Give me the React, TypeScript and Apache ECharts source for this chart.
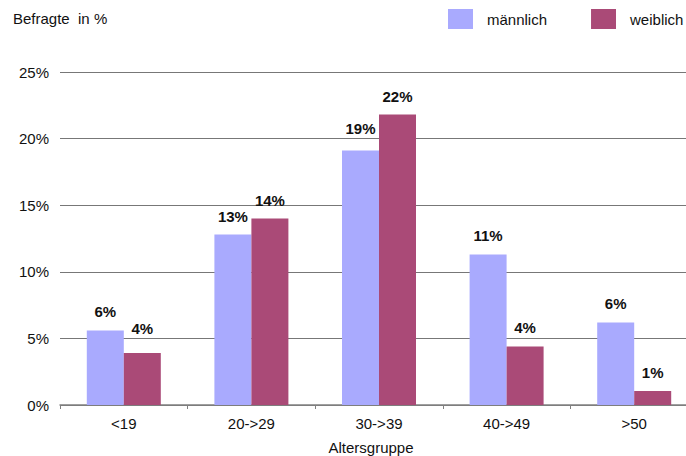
import React, { useEffect, useRef } from "react";
import * as echarts from "echarts";

const categories = ["<19", "20->29", "30->39", "40->49", ">50"];
const maleValues = [5.6, 12.8, 19.1, 11.3, 6.2];
const femaleValues = [3.9, 14.0, 21.8, 4.4, 1.05];
const yTicks = [0, 5, 10, 15, 20, 25];
// gap between a bar's top and its value label
const maleLabelGaps = [11, 11, 15, 11, 11];
const femaleLabelGaps = [17, 11, 11, 11, 11];

const FONT = "'Liberation Sans', Arial, Helvetica, sans-serif";
const MALE = "#a9aafe";
const FEMALE = "#aa4a77";

const withLabelGaps = (values: number[], gaps: number[]) =>
  values.map((v, i) => ({ value: v, label: { distance: gaps[i] } }));

export default function App() {
  const ref = useRef<HTMLDivElement>(null);

  useEffect(() => {
    if (!ref.current) return;
    const chart = echarts.init(ref.current, undefined, { renderer: "svg" });
    const label = {
      show: true,
      position: "top" as const,
      distance: 11,
      fontFamily: FONT,
      fontSize: 15,
      fontWeight: "bold" as const,
      color: "#111",
      formatter: (p: any) => Math.round(p.value) + "%",
    };
    chart.setOption({
      animation: false,
      textStyle: { fontFamily: FONT },
      title: {
        text: "Befragte  in %",
        left: 13,
        top: 11,
        padding: 0,
        textStyle: { fontFamily: FONT, fontSize: 15, fontWeight: "normal", color: "#111" },
      },
      legend: {
        top: 9,
        left: 448,
        padding: 0,
        itemWidth: 25,
        itemHeight: 20,
        itemGap: 44,
        icon: "rect",
        textStyle: { fontFamily: FONT, fontSize: 15, color: "#111", padding: [0, 0, 0, 9] },
        data: ["männlich", "weiblich"],
      },
      grid: {
        left: 60,
        top: 72,
        width: 638,
        height: 333,
        containLabel: false,
        outerBoundsMode: "none",
      },
      xAxis: {
        type: "category",
        data: categories,
        name: "Altersgruppe",
        nameLocation: "middle",
        nameGap: 35,
        nameTextStyle: { fontFamily: FONT, fontSize: 15, color: "#111", padding: [0, 16, 0, 0] },
        axisLine: { lineStyle: { color: "#808080", width: 1.5 } },
        axisTick: { show: true, length: 4, lineStyle: { color: "#808080" } },
        axisLabel: { fontFamily: FONT, fontSize: 15, color: "#111", margin: 11 },
      },
      yAxis: {
        type: "value",
        min: yTicks[0],
        max: yTicks[yTicks.length - 1],
        interval: 5,
        axisLine: { show: false },
        axisTick: { show: false },
        splitLine: { lineStyle: { color: "#777", width: 1.2 } },
        axisLabel: {
          fontFamily: FONT,
          fontSize: 15,
          color: "#111",
          margin: 11,
          formatter: (v: number) => v + "%",
        },
      },
      series: [
        {
          name: "männlich",
          type: "bar",
          data: withLabelGaps(maleValues, maleLabelGaps),
          barWidth: 37,
          barGap: "0%",
          itemStyle: { color: MALE },
          label,
        },
        {
          name: "weiblich",
          type: "bar",
          data: withLabelGaps(femaleValues, femaleLabelGaps),
          barWidth: 37,
          barGap: "0%",
          itemStyle: { color: FEMALE },
          label,
        },
      ],
    });
    return () => chart.dispose();
  }, []);

  return <div ref={ref} style={{ width: 686, height: 456, position: "absolute", left: 0, top: 0 }} />;
}
